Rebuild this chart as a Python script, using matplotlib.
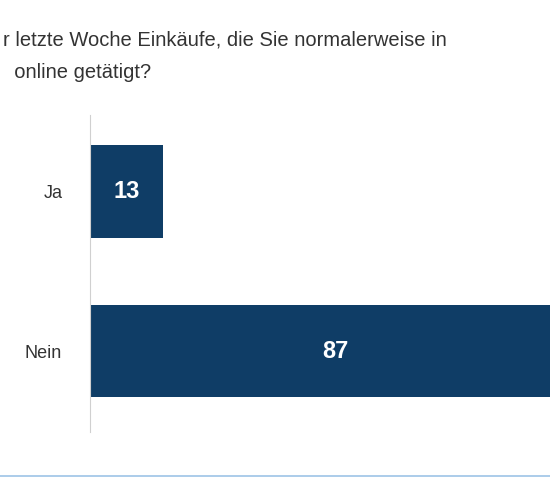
import matplotlib
matplotlib.use("Agg")
import matplotlib.pyplot as plt

categories = ["Ja", "Nein"]
values = [13, 87]

fig = plt.figure(figsize=(5.5, 4.8), dpi=100)
fig.patch.set_facecolor("white")
ax = fig.add_axes([90/550, 0.10, 490/550, 0.66])
ypos = list(range(len(categories)))
ax.barh(ypos, values, height=0.58, color="#0f3d66")
for y, v in zip(ypos, values):
    ax.text(v/2, y, str(v), ha="center", va="center", color="white",
            fontsize=17, fontweight="bold", family="Liberation Sans")
ax.set_yticks(ypos)
ax.set_yticklabels(categories, fontsize=13, family="Liberation Sans", color="#333333")
ax.tick_params(axis="y", length=0, pad=20)
ax.set_xticks([])
ax.set_xlim(0, 87)
ax.set_ylim(1.506, -0.475)
for s in ["top", "right", "bottom"]:
    ax.spines[s].set_visible(False)
ax.spines["left"].set_color("#d0d0d0")

fig.text(0.005, 1 - 40/480, "r letzte Woche Einkäufe, die Sie normalerweise in",
         fontsize=14.5, family="Liberation Sans", color="#333333", va="center")
fig.text(0.005, 1 - 72/480, "n online getätigt?".replace("n o", "  o"),
         fontsize=14.5, family="Liberation Sans", color="#333333", va="center")
fig.add_artist(plt.Line2D([0, 1], [1 - 476/480]*2, color="#9dc3e6", lw=1.2))
fig.savefig("out.png", dpi=100)
